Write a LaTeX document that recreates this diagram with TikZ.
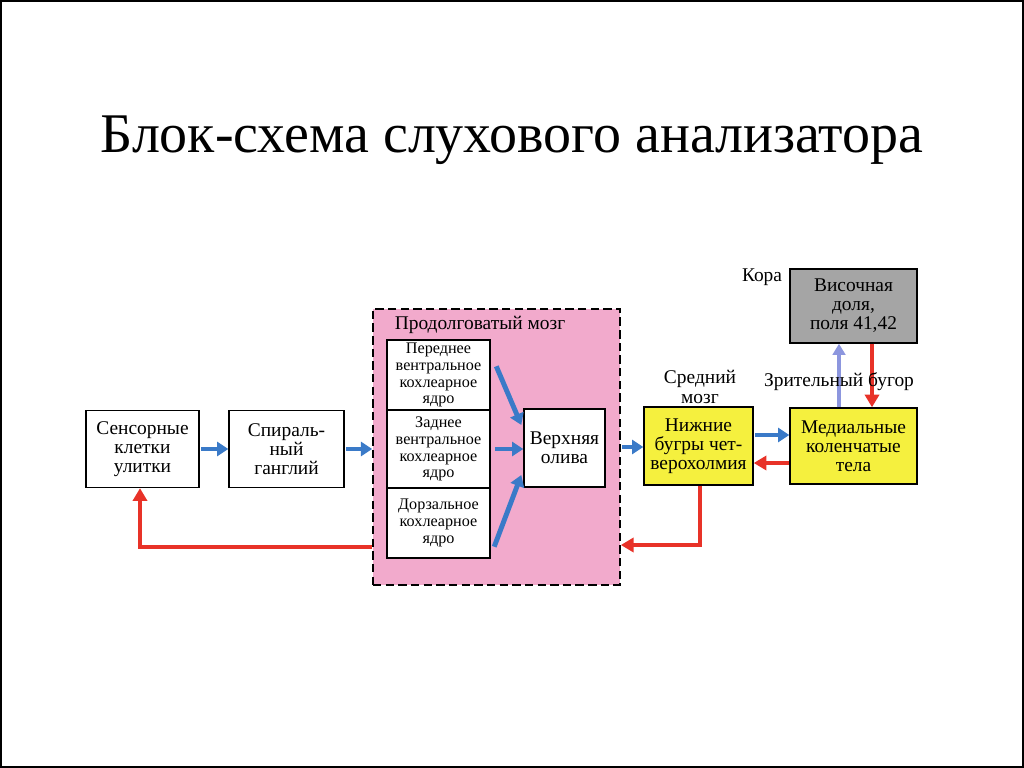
\documentclass[tikz,border=0pt]{standalone}
\usepackage{fontspec}
\setmainfont{Liberation Serif}
\usetikzlibrary{arrows.meta}
\definecolor{rozov}{RGB}{242,170,204}
\definecolor{zhelt}{RGB}{245,240,62}
\definecolor{sery}{RGB}{165,165,165}
\definecolor{sin}{RGB}{58,122,200}
\definecolor{lilov}{RGB}{140,150,222}
\definecolor{krasn}{RGB}{232,50,40}
\tikzset{blok/.style = {draw, line width=1pt, fill=white, align=center, inner sep=1pt, font=\fontsize{13.8}{13.6}\selectfont}}
\tikzset{yadro/.style = {blok, minimum width=2.575cm, font=\fontsize{11.5}{12}\selectfont}}
\tikzset{podpis/.style = {align=center, inner sep=0, font=\fontsize{13.8}{13.6}\selectfont}}
\tikzset{sinstr/.style = {sin, line width=3.5pt, shorten <=1pt, -{Triangle[length=8pt,width=10pt]}}}
\tikzset{krstr/.style = {krasn, line width=2.6pt, -{Triangle[length=9pt,width=10pt]}}}

\begin{document}
\begin{tikzpicture}[x=0.025cm,y=-0.025cm]
        \useasboundingbox (0,0) rectangle (1024,768);
        \draw [line width=0.8pt] (1,1) rectangle (1023,767);
        \node [font=\fontsize{39.8}{48}\selectfont] (title) at (512,140) {Блок-схема слухового анализатора};
        % продолговатый мозг
        \node [draw, fill=rozov, line width=1.2pt, dash pattern=on 6pt off 3pt, minimum width=6.175cm, minimum height=6.9cm] (med) at (496.5,447) {};
        \node [podpis] (medl) at (480,325) {Продолговатый мозг};
        \node [yadro, minimum height=1.75cm] (perv) at (438.5,375) {Переднее\\вентральное\\кохлеарное\\ядро};
        \node [yadro, minimum height=1.95cm] (zad) at (438.5,449) {Заднее\\вентральное\\кохлеарное\\ядро};
        \node [yadro, minimum height=1.75cm] (dorz) at (438.5,523) {Дорзальное\\кохлеарное\\ядро};
        \node [blok, minimum width=2.025cm, minimum height=1.95cm] (oliva) at (564.5,448) {Верхняя\\олива};
        % улитка и ганглий
        \node [blok, minimum width=2.825cm, minimum height=1.925cm] (sens) at (142.5,449) {Сенсорные\\клетки\\улитки};
        \node [blok, minimum width=2.875cm, minimum height=1.925cm] (spir) at (286.5,449) {Спираль-\\ный\\ганглий};
        % средний мозг, бугор, кора
        \node [blok, fill=zhelt, minimum width=2.725cm, minimum height=1.95cm] (nizh) at (698.5,446) {Нижние\\бугры чет-\\верохолмия};
        \node [blok, fill=zhelt, minimum width=3.175cm, minimum height=1.9cm] (medk) at (853.5,446) {Медиальные\\коленчатые\\тела};
        \node [blok, fill=sery, minimum width=3.175cm, minimum height=1.85cm] (kora) at (853.5,306) {Височная\\доля,\\поля 41,42};
        \node [podpis] (koral) at (762,277) {Кора};
        \node [podpis] (sredl) at (700,387) {Средний\\мозг};
        % стрелки
        \draw [sinstr] (sens.east) -- (sens.east -| spir.west);
        \draw [sinstr] (spir.east) -- (spir.east -| med.west);
        \draw [sinstr] ([shift={(5,-10)}]perv.east) -- ([shift={(-2,-23)}]oliva.west);
        \draw [sinstr] ([xshift=2pt]zad.east) -- (zad.east -| oliva.west);
        \draw [sinstr] ([shift={(3,25)}]dorz.east) -- ([shift={(-2,27)}]oliva.west);
        \draw [sinstr] (med.east) -- (med.east -| nizh.west);
        \draw [sinstr] ([shift={(0,-11)}]nizh.east) -- ([shift={(0,-11)}]medk.west);
        \draw [krstr] ([shift={(0,17)}]medk.west) -- ([shift={(0,17)}]nizh.east);
        \draw [lilov, line width=2.2pt, -{Triangle[length=8pt,width=9pt]}] ([shift={(-14.5,0)}]medk.north) -- ([shift={(-14.5,0)}]kora.south);
        \draw [krstr] ([shift={(18.5,0)}]kora.south) -- ([shift={(18.5,0)}]medk.north);
        \draw [krstr] ([shift={(1.5,0)}]nizh.south) |- ([shift={(0,98)}]med.east);
        \draw [krstr] ([shift={(0,100)}]med.west) -| ([shift={(-2.5,0)}]sens.south);
        \node [podpis] (zritl) at (839,382) {Зрительный бугор};
    \end{tikzpicture}
\end{document}
